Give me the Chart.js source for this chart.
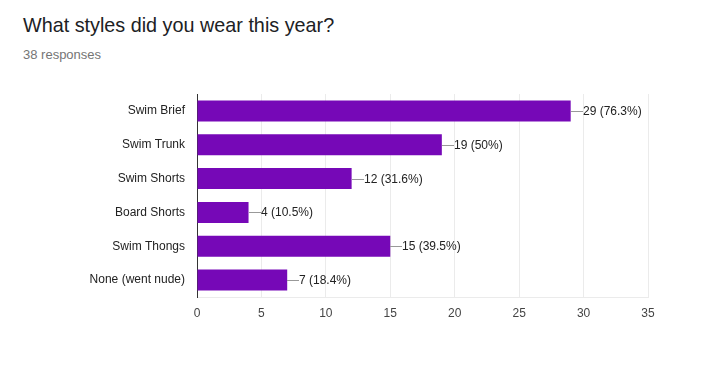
<!DOCTYPE html>
<html>
<head>
<meta charset="utf-8">
<script src="https://cdn.jsdelivr.net/npm/chart.js@4/dist/chart.umd.min.js"></script>
<style>
  html, body { margin: 0; padding: 0; background: #fff; }
  #wrap { position: relative; width: 719px; height: 376px; overflow: hidden; }
  #title { position: absolute; left: 23px; top: 14px; font-family: "Liberation Sans", Arial, sans-serif; font-size: 19.8px; color: #202124; white-space: nowrap; }
  #sub { position: absolute; left: 23px; top: 47px; font-family: "Liberation Sans", Arial, sans-serif; font-size: 13px; color: #757575; white-space: nowrap; }
  canvas { position: absolute; left: 0; top: 0; }
</style>
</head>
<body>
<div id="wrap">
  <div id="title">What styles did you wear this year?</div>
  <div id="sub">38 responses</div>
  <canvas id="c" width="719" height="376"></canvas>
</div>
<script>
const categories = ["Swim Brief", "Swim Trunk", "Swim Shorts", "Board Shorts", "Swim Thongs", "None (went nude)"];
const counts = [29, 19, 12, 4, 15, 7];
const percentLabels = ["76.3%", "50%", "31.6%", "10.5%", "39.5%", "18.4%"];
const xTicks = [0, 5, 10, 15, 20, 25, 30, 35];

const FONT = "'Liberation Sans', Arial, sans-serif";

const valueLabels = {
  id: 'valueLabels',
  afterDatasetsDraw(chart) {
    const ctx = chart.ctx;
    const meta = chart.getDatasetMeta(0);
    ctx.save();
    ctx.font = "12px " + FONT;
    ctx.textBaseline = 'middle';
    ctx.textAlign = 'left';
    meta.data.forEach((bar, i) => {
      const x = Math.round(bar.x);
      const y = Math.round(bar.y) + 0.5;
      ctx.strokeStyle = '#999999';
      ctx.lineWidth = 1;
      ctx.beginPath();
      ctx.moveTo(x, y);
      ctx.lineTo(x + 12, y);
      ctx.stroke();
      ctx.fillStyle = '#222222';
      ctx.fillText(counts[i] + " (" + percentLabels[i] + ")", x + 12, y);
    });
    ctx.restore();
  }
};

new Chart(document.getElementById('c'), {
  type: 'bar',
  data: {
    labels: categories,
    datasets: [{
      data: counts,
      backgroundColor: '#7608b7',
      borderWidth: 0,
      barPercentage: 0.62,
      categoryPercentage: 1.0
    }]
  },
  options: {
    indexAxis: 'y',
    responsive: false,
    animation: false,
    layout: { padding: { top: 94, right: 71, left: 0, bottom: 0 } },
    plugins: { legend: { display: false }, tooltip: { enabled: false }, title: { display: false } },
    scales: {
      x: {
        min: 0, max: 35,
        afterBuildTicks(scale) { scale.ticks = xTicks.map(v => ({ value: v })); },
        afterFit(scale) { scale.height = 376 - 297; },
        grid: { color: '#ebebeb', drawTicks: false },
        border: { color: '#ebebeb' },
        ticks: { padding: 9, color: '#444444', font: { family: FONT, size: 12 } }
      },
      y: {
        afterFit(scale) { scale.width = 197; },
        grid: { display: false, drawTicks: false },
        border: { color: '#333333', width: 1 },
        ticks: { padding: 12, color: '#222222', font: { family: FONT, size: 12 } }
      }
    }
  },
  plugins: [valueLabels]
});
</script>
</body>
</html>
